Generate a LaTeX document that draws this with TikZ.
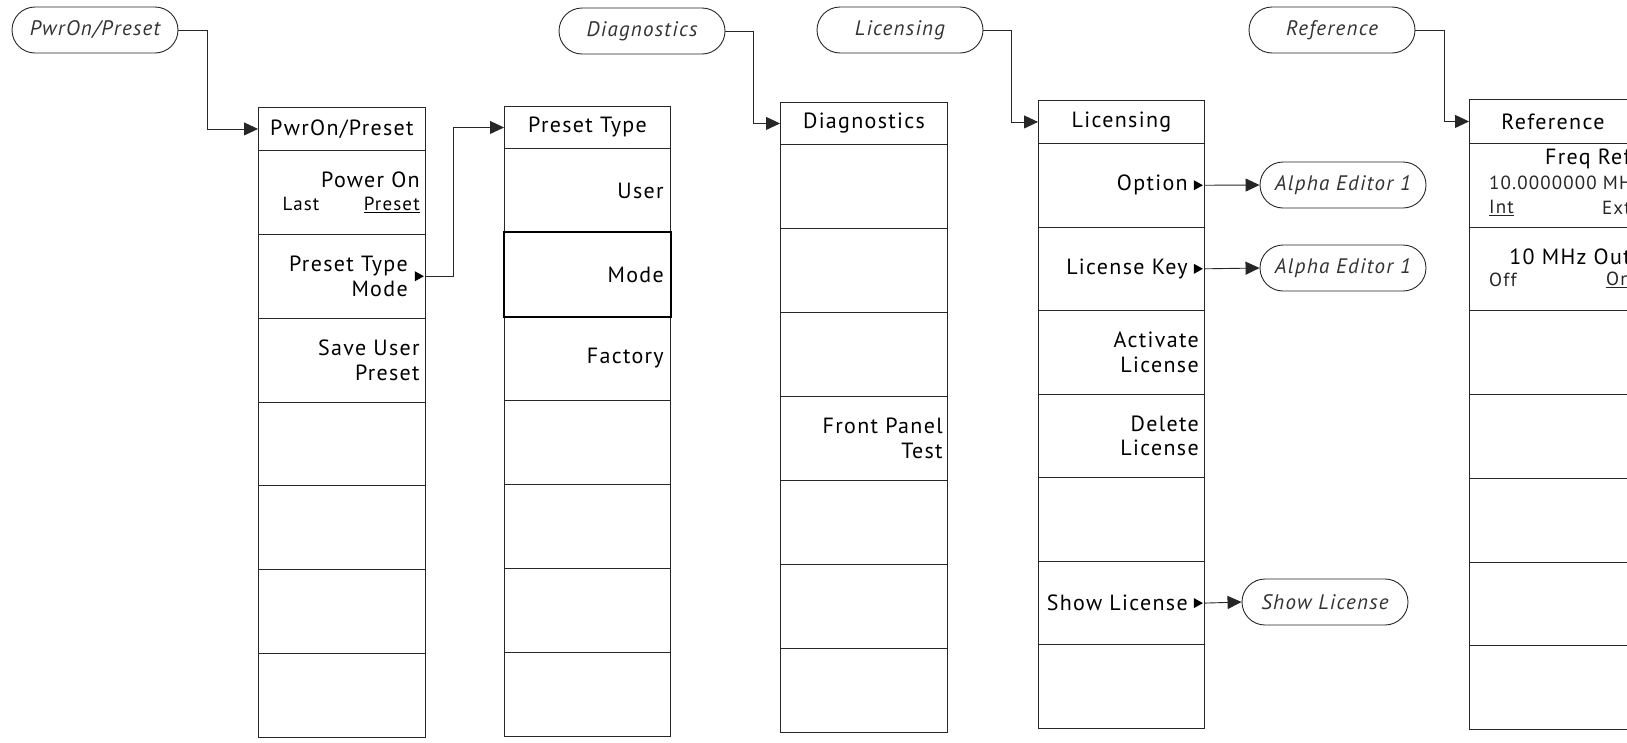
\documentclass[tikz,border=0pt]{standalone}
\usepackage{fontspec}
\setmainfont{PT Sans}[LetterSpace=6.0]
\usetikzlibrary{shapes.misc,arrows.meta,calc}
\newcommand{\mainsz}{\fontsize{22}{24.5}\selectfont}
\newcommand{\menucol}[7]{%
  \pgfmathsetmacro{\mcw}{#3-#2}%
  \pgfmathsetmacro{\mchh}{#5-#4}%
  \pgfmathsetmacro{\mcrh}{(#6-#5)/7}%
  \node[cell, minimum width=\mcw pt, minimum height=\mchh pt] (#1-h) at (#2,#4) {#7};
  \foreach \i in {1,...,7}{%
    \pgfmathsetmacro{\mcy}{#5+(\i-1)*\mcrh}%
    \node[cell, minimum width=\mcw pt, minimum height=\mcrh pt] (#1-\i) at (#2,\mcy) {};
  }%
}
\newcommand{\subtri}[1]{\fill[black] ($(#1.east)+(-2,0)$) -- ++(-9,-5) -- ++(0,10) -- cycle;}
\begin{document}
\begin{tikzpicture}[x=1pt,y=-1pt,
  cell/.style={draw=black!85, line width=0.9pt, inner sep=0pt, anchor=north west, rectangle, font=\mainsz},
  oval/.style={draw=black!85, rounded rectangle, line width=0.9pt, minimum width=166pt, minimum height=46pt, inner sep=0pt, font=\fontsize{21}{22}\selectfont\itshape, text=black!80},
  conn/.style={draw=black!85, line width=0.9pt, -{Triangle[length=14pt,width=13pt]}},
  lbl/.style={font=\mainsz, inner sep=0pt, align=right, anchor=east},
  sub/.style={font=\fontsize{19}{22}\selectfont, inner sep=0pt, text=black!85}
]
\useasboundingbox (0,0) rectangle (1627,742);
\clip (0,0) rectangle (1627,742);

% ---------- columns ----------
\menucol{pw}{258}{425}{107}{150}{737}{PwrOn/Preset}
\menucol{pt}{504}{670}{106}{148}{736}{Preset Type}
\menucol{dg}{780}{947}{102}{144}{732}{Diagnostics}
\menucol{lc}{1038}{1204}{100}{143}{728}{Licensing}
\menucol{rf}{1469}{1636}{99}{143}{729}{Reference}

% ---------- ovals ----------
\node[oval] (opw) at (95,30) {PwrOn/Preset};
\node[oval] (odg) at (642,31) {Diagnostics};
\node[oval] (olc) at (900,30) {Licensing};
\node[oval] (orf) at (1332,30) {Reference};
\node[oval] (oae1) at (1343,185) {Alpha Editor 1};
\node[oval] (oae2) at (1343,268) {Alpha Editor 1};
\node[oval] (osl) at (1325,602) {Show License};

% ---------- PwrOn/Preset labels ----------
\node[lbl] (l-pw1) at ($(pw-1.east)+(-6,0)$) {Power On\\[-2pt]{\fontsize{19}{22}\selectfont\makebox[137pt][s]{Last\hfill\underline{Preset}}}};
\node[lbl] (l-pw2) at ($(pw-2.east)+(-18,0)$) {Preset Type\\Mode};
\subtri{pw-2}
\node[lbl] (l-pw3) at ($(pw-3.east)+(-6,0)$) {Save User\\Preset};

% ---------- Preset Type labels ----------
\node[lbl] (l-pt1) at ($(pt-1.east)+(-7,0)$) {User};
\node[lbl] (l-pt2) at ($(pt-2.east)+(-7,0)$) {Mode};
\node[lbl] (l-pt3) at ($(pt-3.east)+(-7,0)$) {Factory};
\draw[draw=black, line width=2.2pt] (pt-2.north west) rectangle (pt-2.south east);

% ---------- Diagnostics labels ----------
\node[lbl] (l-dg4) at ($(dg-4.east)+(-5,0)$) {Front Panel\\Test};

% ---------- Licensing labels ----------
\node[lbl] (l-lc1) at ($(lc-1.east)+(-17,0)$) {Option};
\subtri{lc-1}
\node[lbl] (l-lc2) at ($(lc-2.east)+(-17,0)$) {License Key};
\subtri{lc-2}
\node[lbl] (l-lc3) at ($(lc-3.east)+(-6,0)$) {Activate\\License};
\node[lbl] (l-lc4) at ($(lc-4.east)+(-6,0)$) {Delete\\License};
\node[lbl] (l-lc6) at ($(lc-6.east)+(-17,0)$) {Show License};
\subtri{lc-6}

% ---------- Reference labels ----------
\node[lbl] (l-rf1a) at ($(rf-1.north east)+(-6,16)$) {Freq Ref};
\node[sub, anchor=west] (l-rf1b) at ($(rf-1.north west)+(20,40)$) {10.0000000 MHz};
\node[sub, anchor=west] (l-rf1c) at ($(rf-1.north west)+(20,65)$) {\underline{Int}};
\node[sub, anchor=east] (l-rf1d) at ($(rf-1.north east)+(-6,65)$) {Ext};
\node[lbl] (l-rf2a) at ($(rf-2.north east)+(-6,30)$) {10 MHz Out};
\node[sub, anchor=west] (l-rf2b) at ($(rf-2.north west)+(20,53)$) {Off};
\node[sub, anchor=east] (l-rf2c) at ($(rf-2.north east)+(-6,53)$) {\underline{On}};

% ---------- connectors ----------
\draw[conn] (opw.east) -- ++(29,0) |- (pw-h.west);
\draw[conn] (pw-2.east) -- ++(28,0) |- (pt-h.west);
\draw[conn] (odg.east) -- ++(28,0) |- (dg-h.west);
\draw[conn] (olc.east) -- ++(28,0) |- (lc-h.west);
\draw[conn] (orf.east) -- ++(29,0) |- (rf-h.west);
\draw[conn] (lc-1.east) -- (oae1.west);
\draw[conn] (lc-2.east) -- (oae2.west);
\draw[conn] (lc-6.east) -- (osl.west);
\end{tikzpicture}
\end{document}
